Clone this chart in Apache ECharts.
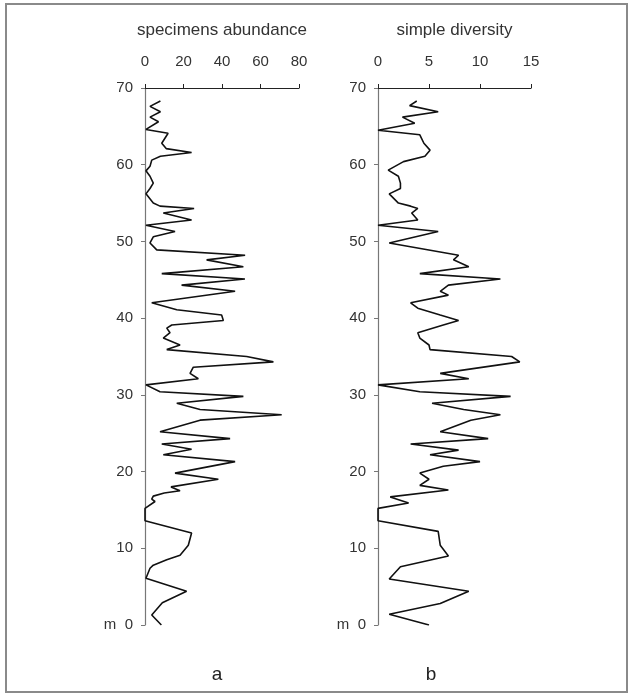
<!DOCTYPE html>
<html>
<head>
<meta charset="utf-8">
<script src="https://cdn.jsdelivr.net/npm/echarts@6/dist/echarts.min.js"></script>
<style>
html,body{margin:0;padding:0;background:#fff;}
#chart{width:633px;height:695px;}
</style>
</head>
<body>
<div id="chart"></div>
<script>
// Panel a: specimens abundance (depth in m, value)
var depthA = [68.3,67.6,66.9,66.2,65.6,64.6,64.1,62.8,62.1,61.6,61.1,60.6,59.8,59.2,58.5,57.6,56.9,56.2,55.0,54.6,54.3,53.7,52.8,52.1,51.3,50.6,49.8,48.9,48.2,47.6,46.7,45.8,45.1,44.3,43.5,42.0,41.1,40.4,39.7,39.1,38.7,38.1,37.4,36.5,35.9,35.0,34.3,33.6,32.8,32.1,31.3,30.4,29.8,28.9,28.1,27.4,26.7,25.2,24.3,23.6,22.9,22.2,21.3,19.8,19.0,18.0,17.5,17.2,16.8,16.4,16.1,15.2,13.6,12.0,10.4,9.1,8.5,7.8,7.4,6.1,4.4,2.9,1.3,0.0];
var abundance = [8,2.6,8,2.6,7,0.5,12,8.7,11,24.2,8,3.5,2.6,0.5,2.6,4.3,2.6,0.5,4.3,7.8,25.5,9.5,24.2,0.5,15.6,4.3,2.6,6.1,52,32,51.1,8.7,51.9,19,46.8,3.5,16.5,39.8,40.7,13.9,11.3,13,9.5,18.2,11.3,52.8,66.7,25.1,23.4,27.7,0.5,7.8,51.1,16.5,28.6,71,28.6,7.8,44.2,8.7,24.2,9.5,46.8,15.6,38.1,13.5,18.2,10,4.3,3.5,5.2,0,0,24.2,22.5,18.2,11.3,4.3,2.6,0.5,21.6,9,3.5,8.5];

// Panel b: simple diversity
var depthB = [68.3,67.7,66.9,66.2,65.4,64.5,63.9,62.8,61.9,61.1,60.4,59.3,58.5,57.6,56.9,56.2,55.0,54.6,54.3,53.7,52.8,52.1,51.3,49.8,48.2,47.6,46.7,45.8,45.1,44.3,43.5,43.0,42.0,41.3,40.4,39.7,39.1,38.1,37.4,36.5,35.9,35.0,34.3,32.8,32.1,31.3,30.4,29.8,28.9,28.1,27.4,26.7,25.2,24.3,23.6,22.8,22.2,21.3,20.7,19.8,19.0,18.2,17.6,16.7,15.9,15.2,13.6,12.2,10.4,9.0,7.6,6.0,4.4,2.8,1.4,0.0];
var diversity = [3.8,3.1,5.9,2.4,3.6,0,4.1,4.5,5.1,4.6,2.5,1.0,2.0,2.2,2.2,1.1,2.0,3.2,3.9,3.3,3.9,0,5.9,1.1,7.9,7.4,8.9,4.1,12.0,6.9,6.1,6.9,3.2,3.9,6.1,7.9,6.4,3.9,4.1,5.0,5.1,13.1,13.9,6.1,8.9,0,4.1,13.0,5.3,8.4,12.0,9.1,6.1,10.8,3.2,7.9,5.1,10.0,6.4,4.1,5.0,4.1,6.9,1.2,3.0,0,0,5.9,6.1,6.9,2.2,1.1,8.9,6.1,1.1,5.0];

var ticksA = {min:0, max:80, interval:20};
var ticksB = {min:0, max:15, interval:5};
var depthTicks = {min:0, max:70, interval:10};
var titleA = 'specimens abundance';
var titleB = 'simple diversity';
var panelLabels = ['a','b'];

function pairs(vals, depths){
  var out = [];
  for (var i=0;i<vals.length;i++) out.push([vals[i], depths[i]]);
  return out;
}

var FONT = 'Liberation Sans, Arial, sans-serif';
var chart = echarts.init(document.getElementById('chart'), null, {renderer:'canvas'});

function xAxisDef(idx, t, name){
  return {
    type:'value', gridIndex:idx, position:'top',
    min:t.min, max:t.max, interval:t.interval,
    name:name, nameLocation:'middle', nameGap:49,
    nameTextStyle:{fontFamily:FONT, fontSize:17, color:'#333'},
    axisLine:{show:true, onZero:false, lineStyle:{color:'#222', width:1.2}},
    axisTick:{show:true, inside:false, length:4, lineStyle:{color:'#222'}},
    axisLabel:{fontFamily:FONT, fontSize:15, color:'#333', margin:19},
    splitLine:{show:false}
  };
}
function yAxisDef(idx){
  return {
    type:'value', gridIndex:idx,
    min:depthTicks.min, max:depthTicks.max, interval:depthTicks.interval,
    axisLine:{show:true, onZero:false, lineStyle:{color:'#777', width:1.2}},
    axisTick:{show:true, length:4, lineStyle:{color:'#777'}},
    axisLabel:{fontFamily:FONT, fontSize:15, color:'#333', margin:12,
      formatter:function(v){ return v===0 ? 'm  0' : String(v); }},
    splitLine:{show:false}
  };
}

var option = {
  backgroundColor:'#fff',
  animation:false,
  grid:[
    {left:145, top:88, width:154, height:537},
    {left:378, top:88, width:153, height:537}
  ],
  xAxis:[xAxisDef(0, ticksA, titleA), xAxisDef(1, ticksB, titleB)],
  yAxis:[yAxisDef(0), yAxisDef(1)],
  series:[
    {type:'line', xAxisIndex:0, yAxisIndex:0, data:pairs(abundance, depthA),
     showSymbol:false, symbol:'none', lineStyle:{color:'#111', width:1.6}},
    {type:'line', xAxisIndex:1, yAxisIndex:1, data:pairs(diversity, depthB),
     showSymbol:false, symbol:'none', lineStyle:{color:'#111', width:1.6}}
  ],
  graphic:[
    {type:'rect', shape:{x:6, y:4, width:621, height:688},
     style:{fill:'none', stroke:'#8a8a8a', lineWidth:2}},
    {type:'text', x:217, y:675, style:{text:panelLabels[0], font:'19px '+FONT, fill:'#222', textAlign:'center', textVerticalAlign:'middle'}},
    {type:'text', x:431, y:675, style:{text:panelLabels[1], font:'19px '+FONT, fill:'#222', textAlign:'center', textVerticalAlign:'middle'}}
  ]
};
chart.setOption(option);
</script>
</body>
</html>
